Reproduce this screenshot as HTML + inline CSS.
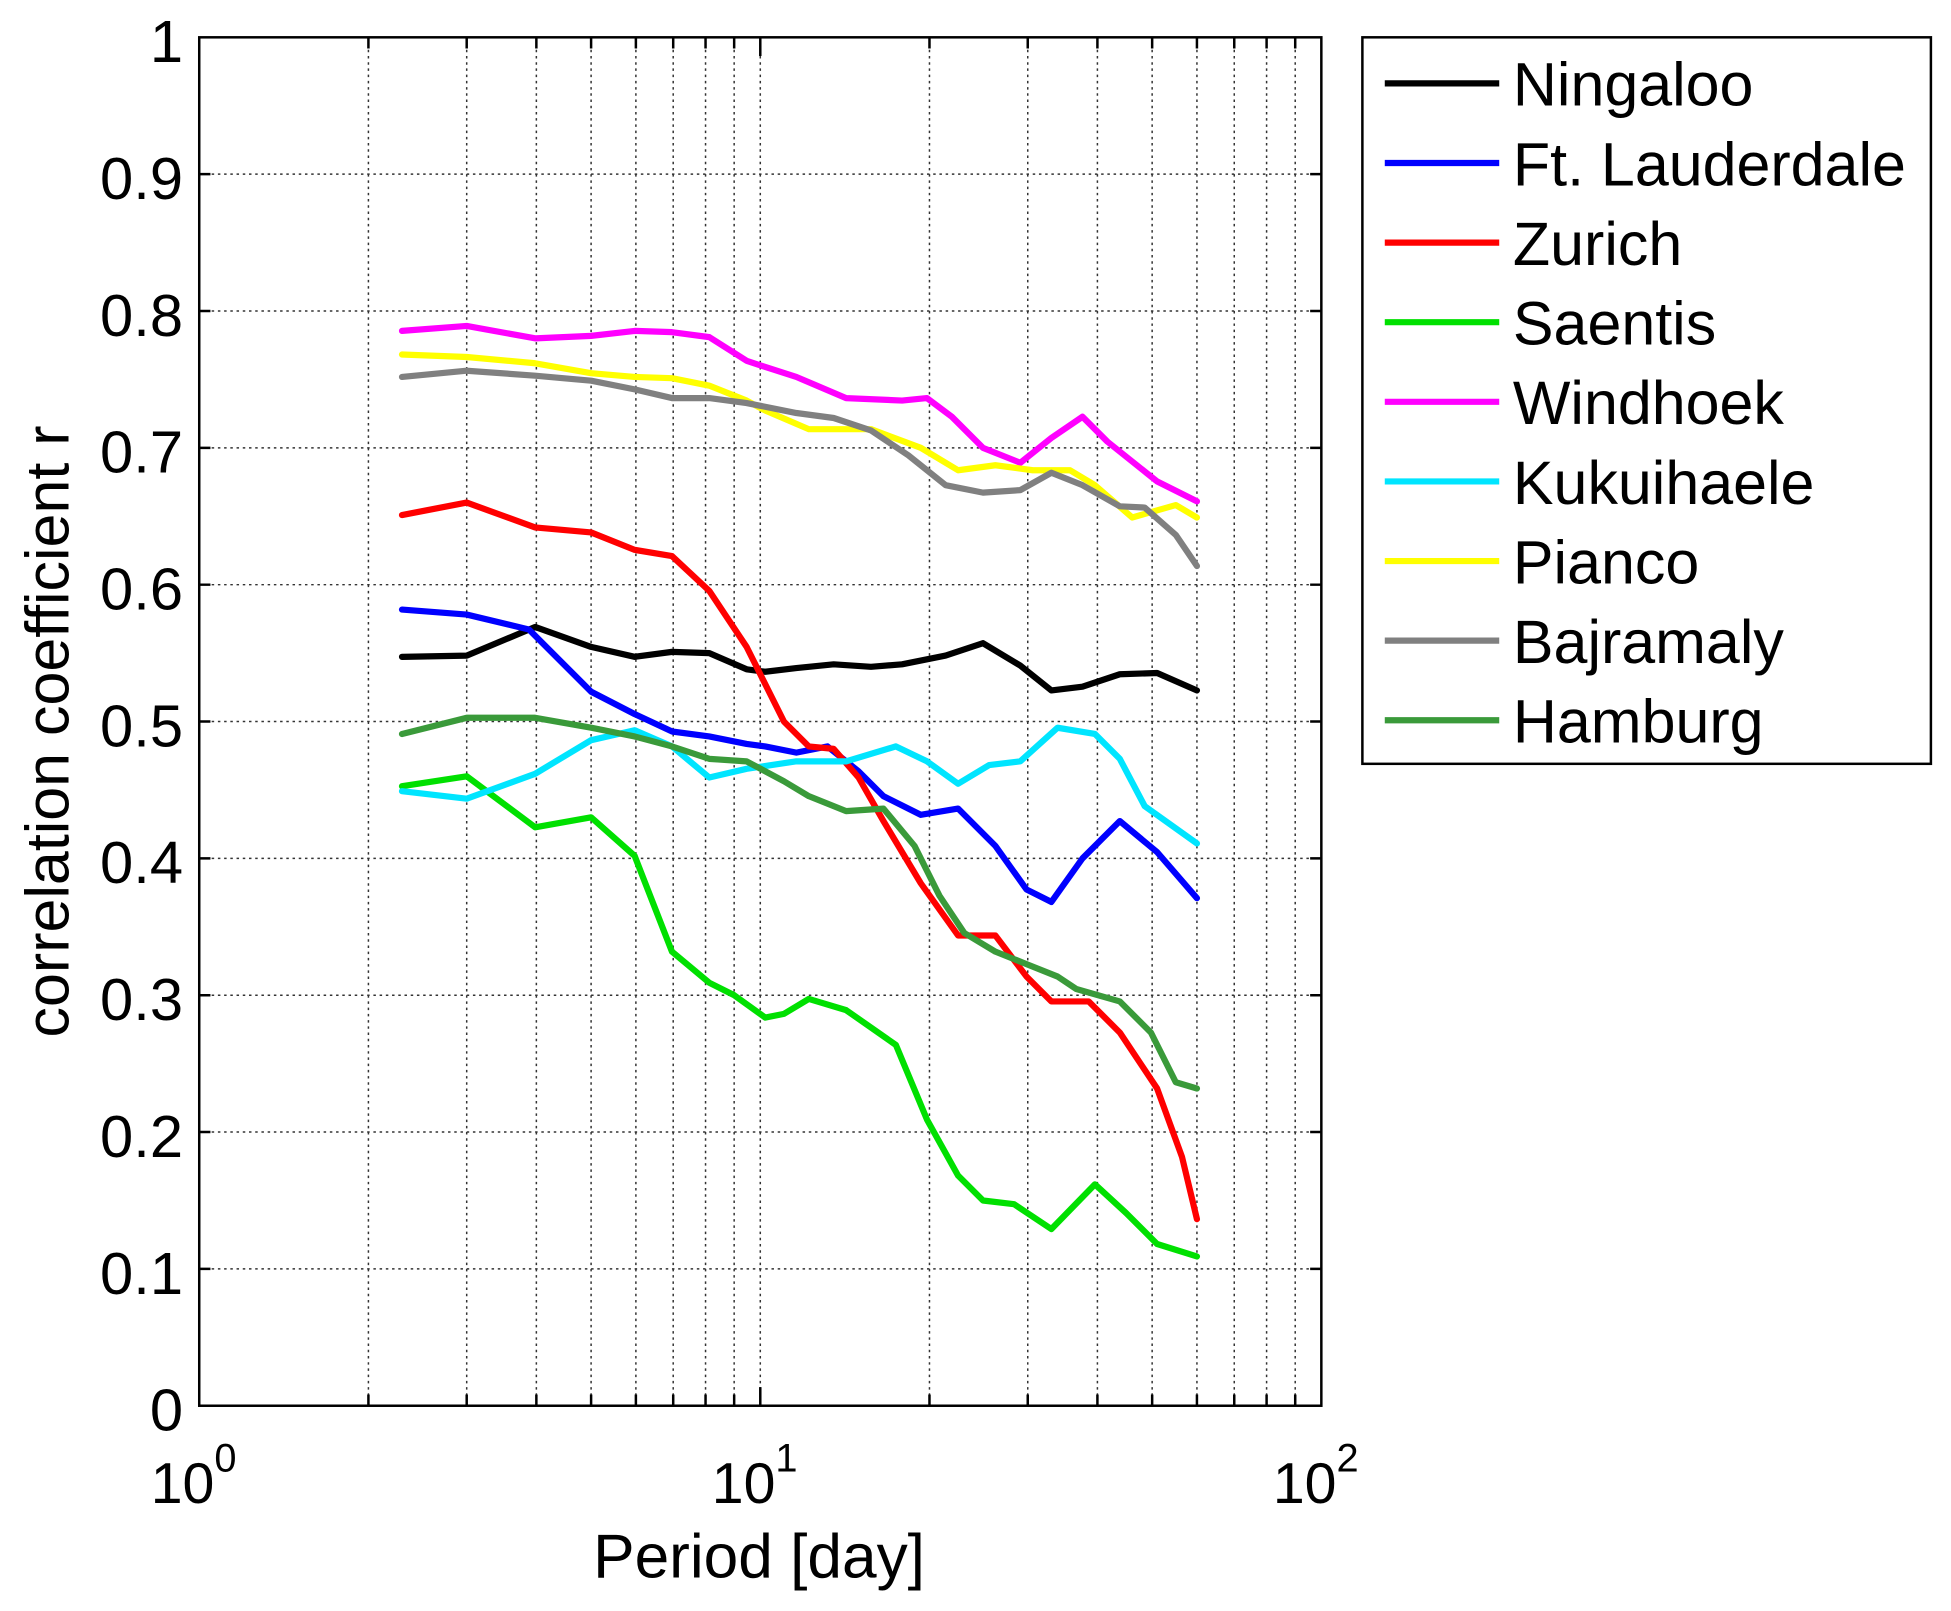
<!DOCTYPE html>
<html><head><meta charset="utf-8"><style>html,body{margin:0;padding:0;background:#fff}svg{display:block}</style></head>
<body>
<svg width="1951" height="1611" viewBox="0 0 1568 1295" xmlns="http://www.w3.org/2000/svg" font-family="Liberation Sans, sans-serif">
<rect width="1568" height="1295" fill="#fff"/>
<g stroke="#333" stroke-width="1.2" stroke-dasharray="2,3" fill="none">
<path d="M160 140H1062M160 250H1062M160 360H1062M160 470H1062M160 580H1062M160 690H1062M160 800H1062M160 910H1062M160 1020H1062"/>
<path d="M296 30V1130M375 30V1130M431 30V1130M475 30V1130M511 30V1130M541 30V1130M567 30V1130M590 30V1130M611 30V1130M747 30V1130M826 30V1130M882 30V1130M926 30V1130M962 30V1130M992 30V1130M1018 30V1130M1041 30V1130"/>
</g>
<g stroke="#000" stroke-width="2" fill="none">
<path d="M160 140h9M160 250h9M160 360h9M160 470h9M160 580h9M160 690h9M160 800h9M160 910h9M160 1020h9"/>
<path d="M1062 140h-9M1062 250h-9M1062 360h-9M1062 470h-9M1062 580h-9M1062 690h-9M1062 800h-9M1062 910h-9M1062 1020h-9"/>
<path d="M296 1130v-9M375 1130v-9M431 1130v-9M475 1130v-9M511 1130v-9M541 1130v-9M567 1130v-9M590 1130v-9M611 1130v-15M747 1130v-9M826 1130v-9M882 1130v-9M926 1130v-9M962 1130v-9M992 1130v-9M1018 1130v-9M1041 1130v-9"/>
<path d="M296 30v9M375 30v9M431 30v9M475 30v9M511 30v9M541 30v9M567 30v9M590 30v9M611 30v15M747 30v9M826 30v9M882 30v9M926 30v9M962 30v9M992 30v9M1018 30v9M1041 30v9"/>
<rect x="160" y="30" width="902" height="1100"/>
</g>
<g fill="none" stroke-width="5" stroke-linejoin="round" stroke-linecap="round">
<polyline stroke="#000" points="323,528 375,527 430,504 475,520 510,528 540,524 570,525 600,538 615,540 640,537 670,534 700,536 725,534 760,527 790,517 820,535 845,555 870,552 900,542 930,541 962,555"/>
<polyline stroke="#0000ff" points="323,490 375,494 425,506 475,556 510,574 540,588 570,592 600,598 615,600 640,605 665,600 690,620 710,640 740,655 770,650 800,680 825,715 845,725 870,690 900,660 930,685 962,722"/>
<polyline stroke="#ff0000" points="323,414 375,404 430,424 475,428 510,442 540,447 570,475 600,520 630,580 650,600 670,602 690,625 710,660 740,710 770,752 800,752 825,785 845,805 875,805 900,830 930,875 950,930 962,980"/>
<polyline stroke="#00e000" points="323,632 375,624 430,665 475,657 510,688 540,765 570,790 590,800 615,818 630,815 650,803 680,812 720,840 745,900 770,945 790,965 815,968 845,988 880,952 905,975 930,1000 962,1010"/>
<polyline stroke="#ff00ff" points="323,266 375,262 430,272 475,270 510,266 540,267 570,271 600,290 615,295 640,303 680,320 725,322 745,320 765,335 790,360 820,372 845,352 870,335 890,355 930,387 962,403"/>
<polyline stroke="#00e5ff" points="323,636 375,642 430,622 475,595 510,587 540,600 570,625 600,618 640,612 680,612 720,600 745,612 770,630 795,615 820,612 850,585 880,590 900,610 920,648 962,678"/>
<polyline stroke="#ffff00" points="323,285 375,287 430,292 475,300 510,303 540,304 570,310 600,322 615,330 650,345 700,345 740,360 770,378 800,374 830,378 860,378 880,390 910,416 945,406 962,416"/>
<polyline stroke="#808080" points="323,303 375,298 430,302 475,306 510,313 540,320 570,320 600,324 640,332 670,336 700,346 730,366 760,390 790,396 820,394 845,380 870,390 900,407 920,408 945,430 962,455"/>
<polyline stroke="#3a9a3a" points="323,590 375,577 430,577 475,585 510,592 540,600 570,610 600,612 630,628 650,640 680,652 710,650 735,680 755,720 775,750 800,765 825,775 850,785 865,795 900,805 925,830 945,870 962,875"/>
</g>
<g font-size="48" text-anchor="end" fill="#000">
<text x="147" y="50">1</text><text x="147" y="160">0.9</text><text x="147" y="270">0.8</text><text x="147" y="380">0.7</text><text x="147" y="490">0.6</text><text x="147" y="600">0.5</text><text x="147" y="710">0.4</text><text x="147" y="820">0.3</text><text x="147" y="930">0.2</text><text x="147" y="1040">0.1</text><text x="147" y="1150">0</text>
</g>
<g font-size="46" fill="#000">
<text x="121" y="1208">10<tspan font-size="32" dy="-25">0</tspan></text>
<text x="572" y="1208">10<tspan font-size="32" dy="-25">1</tspan></text>
<text x="1023" y="1208">10<tspan font-size="32" dy="-25">2</tspan></text>
<text x="610" y="1268" text-anchor="middle" font-size="50">Period [day]</text>
<text transform="translate(55,588) rotate(-90)" text-anchor="middle" font-size="49">correlation coefficient r</text>
</g>
<rect x="1095" y="30" width="457" height="584" fill="#fff" stroke="#000" stroke-width="2"/>
<g stroke-width="5" fill="none">
<path stroke="#000" d="M1113 67h92"/><path stroke="#0000ff" d="M1113 131h92"/><path stroke="#ff0000" d="M1113 195h92"/><path stroke="#00e000" d="M1113 259h92"/><path stroke="#ff00ff" d="M1113 323h92"/><path stroke="#00e5ff" d="M1113 387h92"/><path stroke="#ffff00" d="M1113 451h92"/><path stroke="#808080" d="M1113 515h92"/><path stroke="#3a9a3a" d="M1113 579h92"/>
</g>
<g font-size="49" fill="#000">
<text x="1216" y="85">Ningaloo</text><text x="1216" y="149">Ft. Lauderdale</text><text x="1216" y="213">Zurich</text><text x="1216" y="277">Saentis</text><text x="1216" y="341">Windhoek</text><text x="1216" y="405">Kukuihaele</text><text x="1216" y="469">Pianco</text><text x="1216" y="533">Bajramaly</text><text x="1216" y="597">Hamburg</text>
</g>
</svg>
</body></html>
